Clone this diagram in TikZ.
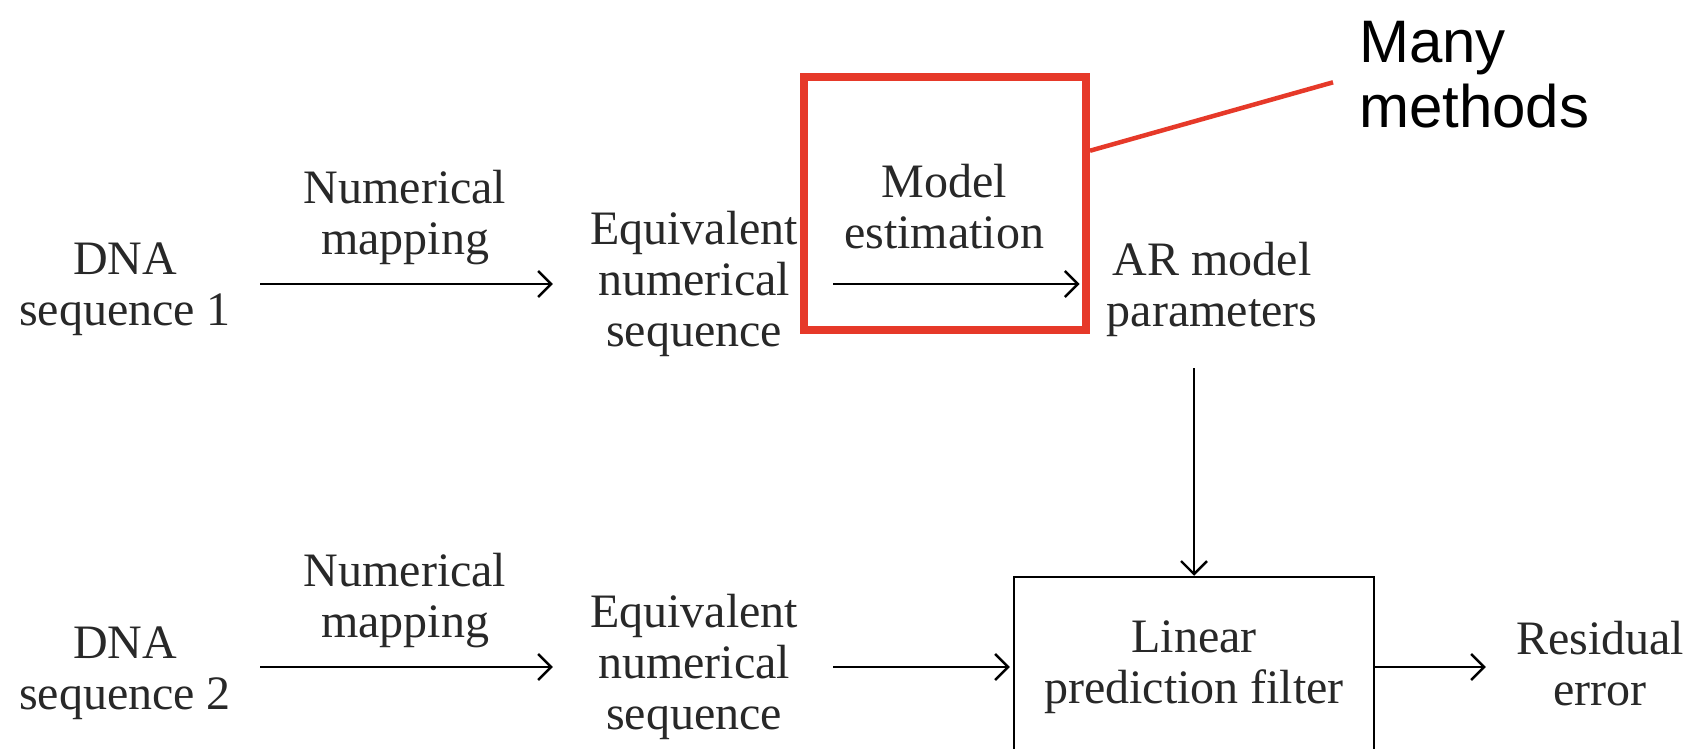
\documentclass[tikz,border=0pt]{standalone}
\usepackage{fontspec}
\setmainfont{Liberation Serif}
\newfontfamily\calloutfont{Liberation Sans}
\usetikzlibrary{arrows.meta}
\definecolor{callred}{RGB}{230,57,41}
\definecolor{txt}{RGB}{40,40,40}
\begin{document}
\begin{tikzpicture}[x=1pt,y=-1pt,
  lbl/.style={inner sep=0pt, align=center, text=txt, font=\fontsize{48}{51}\selectfont},
  conn/.style={line width=2.4pt, -{Straight Barb[length=13pt,width=26pt,line width=2.4pt]}},
  callout/.style={callred, line width=4.5pt},
]
\useasboundingbox (0,0) rectangle (1701,749);
\clip (0,0) rectangle (1701,749);
\fill[white] (0,0) rectangle (1701,749);

% row 1
\node[lbl] (dna1) at (125,289) {DNA\\sequence 1};
\node[lbl] (map1) at (405,218) {Numerical\\mapping};
\node[lbl] (eq1) at (694,284) {Equivalent\\numerical\\sequence};
\node[lbl] (est) at (944,207) {Model\\estimation};
\node[lbl] (ar) at (1212,289) {AR model\\parameters};
\node[draw=callred, line width=8pt, minimum width=282pt, minimum height=253pt, inner sep=0pt] (redbox) at (945,203.5) {};
\node[lbl, font=\calloutfont\fontsize{60}{65}\selectfont, anchor=west, align=left, text=black] (many) at (1359,75) {Many\\methods};

% row 2
\node[lbl] (dna2) at (125,673) {DNA\\sequence 2};
\node[lbl] (map2) at (405,601) {Numerical\\mapping};
\node[lbl] (eq2) at (694,667) {Equivalent\\numerical\\sequence};
\node[lbl, draw=black, line width=2.5pt, minimum width=360pt, minimum height=180pt] (lpf) at (1194,667) {Linear\\prediction filter};
\node[lbl] (res) at (1600,664) {Residual\\error};

% connectors
\draw[conn, shorten <=29pt, shorten >=37pt] (eq1.west -| dna1.east) -- (eq1.west);
\draw[conn, shorten <=35pt, shorten >=27pt] (eq1.east) -- (eq1.east -| ar.west);
\draw[conn, shorten <=32pt] (ar.south -| lpf.north) -- (lpf.north);
\draw[conn, shorten <=29pt, shorten >=37pt] (lpf.west -| dna2.east) -- (lpf.west -| eq2.west);
\draw[conn, shorten <=35pt, shorten >=3pt] (lpf.west -| eq2.east) -- (lpf.west);
\draw[conn, shorten >=30pt] (lpf.east) -- (lpf.east -| res.west);
\draw[callout, shorten >=27pt] (redbox.20) -- (many.west);
\end{tikzpicture}
\end{document}
